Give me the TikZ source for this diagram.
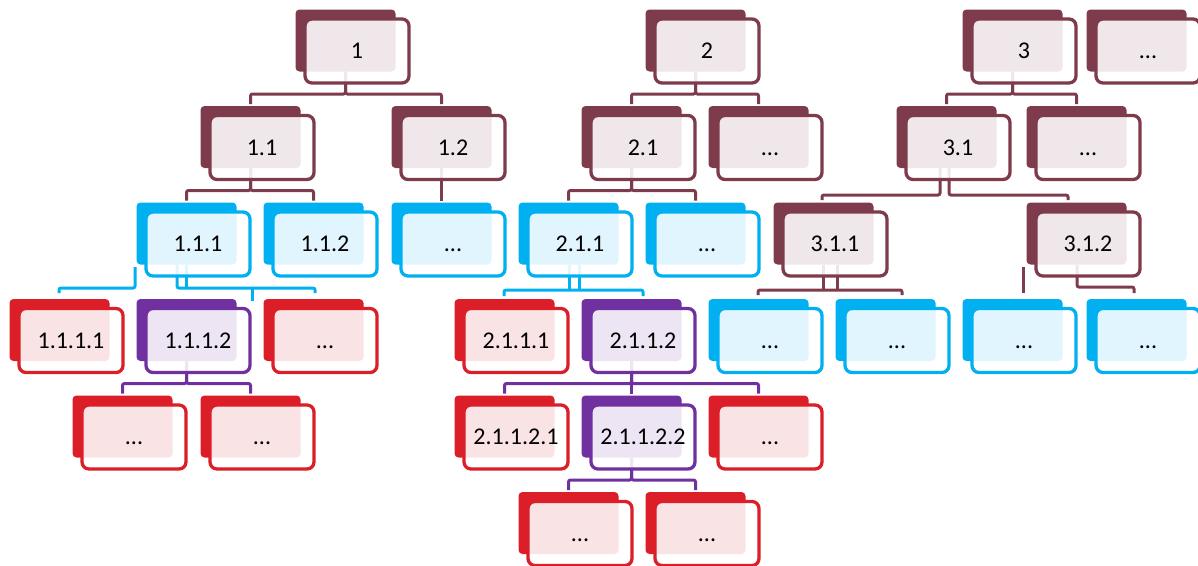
\documentclass[tikz,border=0pt]{standalone}
\usepackage{fontspec}
\setmainfont{Carlito}
\usetikzlibrary{calc}
\definecolor{mrn}{HTML}{7E3B4C}
\definecolor{cyn}{HTML}{00B0F0}
\definecolor{rd}{HTML}{DC1E28}
\definecolor{prp}{HTML}{7030A0}
\pgfdeclarelayer{connlayer}
\pgfdeclarelayer{backlayer}
\pgfsetlayers{connlayer,backlayer,main}
\tikzset{
  front/.style={draw=#1, line width=3.3pt, fill=white, fill opacity=0.88, text opacity=1,
    rounded corners=7pt, minimum width=104pt, minimum height=64pt, inner sep=0pt,
    text height=15pt, text depth=0pt, font=\fontsize{24}{24}\selectfont},
  link/.style={draw=#1, line width=3pt, rounded corners=2pt},
}
\newcommand\orgnode[5]{%
  \begin{pgfonlayer}{backlayer}
    \fill[#4, rounded corners=4pt] (#2-61.5,#3-41.5) rectangle (#2+38.5,#3+20.5);
  \end{pgfonlayer}
  \node[front=#4] (#1) at (#2,#3) {#5};
}
\newcommand\tie[3]{%
  \draw[link=#1] ($(#2)+(-11.5,20.5)$) -- ++(0,22.5) -| ($(#3)+(-11.5,-43.5)$);
}
\begin{document}
\begin{tikzpicture}[x=1pt,y=-1pt]
\useasboundingbox (0,0) rectangle (1198,565);
% row 1
\orgnode{a}{357}{51}{mrn}{1}
\orgnode{b}{707}{51}{mrn}{2}
\orgnode{c}{1024}{51}{mrn}{3}
\orgnode{d}{1148}{51}{mrn}{...}
% row 2
\orgnode{a1}{262}{147.5}{mrn}{1.1}
\orgnode{a2}{453}{147.5}{mrn}{1.2}
\orgnode{b1}{643}{147.5}{mrn}{2.1}
\orgnode{b2}{770}{147.5}{mrn}{...}
\orgnode{c1}{958}{147.5}{mrn}{3.1}
\orgnode{c2}{1088}{147.5}{mrn}{...}
% row 3
\orgnode{a11}{198}{244}{cyn}{1.1.1}
\orgnode{a12}{325}{244}{cyn}{1.1.2}
\orgnode{a21}{453}{244}{cyn}{...}
\orgnode{b11}{580}{244}{cyn}{2.1.1}
\orgnode{b12}{707}{244}{cyn}{...}
\orgnode{c11}{835}{244}{mrn}{3.1.1}
\orgnode{c12}{1088}{244}{mrn}{3.1.2}
% row 4
\orgnode{a111}{71}{340.5}{rd}{1.1.1.1}
\orgnode{a112}{198}{340.5}{prp}{1.1.1.2}
\orgnode{a113}{325}{340.5}{rd}{...}
\orgnode{b111}{516}{340.5}{rd}{2.1.1.1}
\orgnode{b112}{643}{340.5}{prp}{2.1.1.2}
\orgnode{c111}{770}{340.5}{cyn}{...}
\orgnode{c112}{897}{340.5}{cyn}{...}
\orgnode{c121}{1024}{340.5}{cyn}{...}
\orgnode{c122}{1148}{340.5}{cyn}{...}
% row 5
\orgnode{a1121}{134}{437}{rd}{...}
\orgnode{a1122}{262}{437}{rd}{...}
\orgnode{b1121}{516}{437}{rd}{2.1.1.2.1}
\orgnode{b1122}{643}{437}{prp}{2.1.1.2.2}
\orgnode{b1123}{770}{437}{rd}{...}
% row 6
\orgnode{b11221}{580}{533.5}{rd}{...}
\orgnode{b11222}{707}{533.5}{rd}{...}

\begin{pgfonlayer}{connlayer}
\tie{mrn}{a}{a1} \tie{mrn}{a}{a2}
\tie{mrn}{b}{b1} \tie{mrn}{b}{b2}
\tie{mrn}{c}{c1} \tie{mrn}{c}{c2}
\tie{mrn}{a1}{a11} \tie{mrn}{a1}{a12}
\draw[link=mrn] ($(a2)+(-11.5,20.5)$) -- ($(a21)+(-11.5,-43.5)$);
\tie{mrn}{b1}{b11} \tie{mrn}{b1}{b12}
\tie{prp}{a112}{a1121} \tie{prp}{a112}{a1122}
\tie{prp}{b112}{b1121} \tie{prp}{b112}{b1123}
\draw[link=prp] ($(b112)+(-11.5,20.5)$) -- ($(b1122)+(-11.5,-43.5)$);
\tie{prp}{b1122}{b11221} \tie{prp}{b1122}{b11222}
% 1.1.1
\draw[link=cyn] ($(a11)+(-21,20.5)$) |- ($(a113)+(-10,-52.5)$) -- ($(a113)+(-10,-47.5)$);
\draw[link=cyn] ($(a11)+(-11.5,20.5)$) -- ($(a11)+(-11.5,44)$);
\draw[link=cyn] ($(a112)+(54,-52.5)$) -- ($(a112)+(54,-39.5)$);
\draw[link=cyn] ($(a11)+(-63,23)$) |- ($(a111)+(-12,-52.5)$) -- ($(a111)+(-12,-47.5)$);
% 2.1.1
\draw[link=cyn] ($(b11)+(-11,20.5)$) -- ($(b11)+(-11,46)$);
\draw[link=cyn] ($(b11)+(-1,20.5)$) -- ($(b11)+(-1,46)$);
\draw[link=cyn] ($(b111)+(-12,-44.5)$) |- ($(b11)+(0,46)$) -| ($(b112)+(0,-44.5)$);
% 3.1
\draw[link=mrn] ($(c1)+(-18,20.5)$) |- ($(c11)+(-13,-49)$) -- ($(c11)+(-13,-44)$);
\draw[link=mrn] ($(c1)+(-9,20.5)$) |- ($(c12)+(-20,-49)$) -- ($(c12)+(-20,-44)$);
% 3.1.1
\draw[link=mrn] ($(c11)+(-12,20.5)$) -- ($(c11)+(-12,46)$);
\draw[link=mrn] ($(c11)+(2,20.5)$) -- ($(c11)+(2,46)$);
\draw[link=mrn] ($(c111)+(-12,-45.5)$) |- ($(c11)+(0,46)$) -| ($(c112)+(5,-45.5)$);
% 3.1.2
\draw[link=mrn] ($(c12)+(-11,20.5)$) |- ($(c122)+(-14,-53.5)$) -- ($(c122)+(-14,-47.5)$);
\draw[link=mrn] ($(c121)+(-1,-73.5)$) -- ($(c121)+(-1,-47.5)$);
\end{pgfonlayer}
\end{tikzpicture}
\end{document}
